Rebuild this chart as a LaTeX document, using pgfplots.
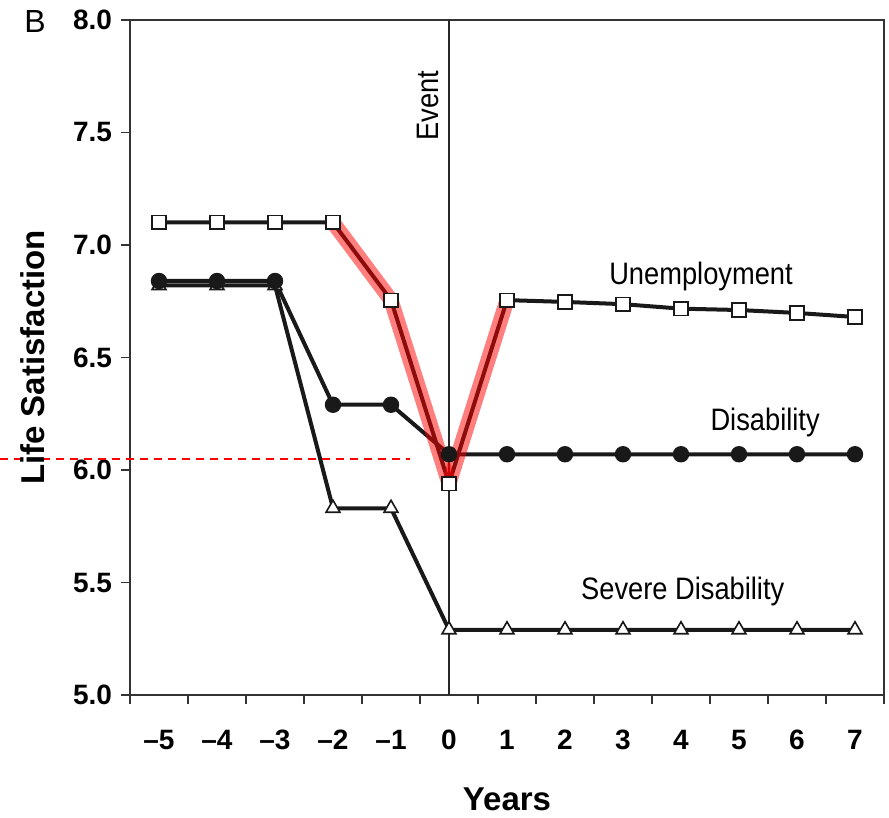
\documentclass[border=0pt]{standalone}
\usepackage{fontspec}
\setmainfont{Liberation Sans}
\newfontfamily\narrowfont[FakeStretch=0.88]{Liberation Sans}
\usepackage{pgfplots}
\pgfplotsset{compat=1.18}
\begin{document}
\begin{tikzpicture}
\begin{axis}[
  scale only axis, width=377pt, height=337.5pt,
  xmin=-5.5, xmax=7.5, ymin=5, ymax=8,
  clip=false,
  axis line style={line width=1pt, black!80},
  tick align=outside,
  xtick pos=bottom, ytick pos=left,
  xtick={-5.5,-4.5,...,7.5}, xticklabels={},
  extra x ticks={-5,-4,-3,-2,-1,0,1,2,3,4,5,6,7},
  extra x tick labels={\textendash5,\textendash4,\textendash3,\textendash2,\textendash1,0,1,2,3,4,5,6,7},
  extra x tick style={major tick length=0pt, tick label style={yshift=-14pt}},
  ytick={5,5.5,...,8},
  major tick length=4.5pt,
  tick style={line width=0.8pt, black!80},
  ticklabel style={font=\bfseries\fontsize{14}{16}\selectfont},
  /pgf/number format/fixed, /pgf/number format/fixed zerofill,
  /pgf/number format/precision=1, /pgf/number format/assume math mode=true,
  yticklabel style={xshift=-1pt},
  xlabel={Years}, ylabel={Life Satisfaction},
  every axis x label/.style={at={([yshift=-52pt]axis description cs:0.5,0)}, anchor=center, font=\bfseries\fontsize{16.5}{19}\selectfont},
  every axis y label/.style={at={([xshift=-48.5pt]axis description cs:0,0.5)}, anchor=center, rotate=90, font=\bfseries\fontsize{16.5}{19}\selectfont},
]
\coordinate (SW) at (rel axis cs:0,0);
\coordinate (NE) at (rel axis cs:1,1);
\coordinate (NW) at (rel axis cs:0,1);
% event line
\addplot[black!85, line width=1pt] coordinates {(0,5) (0,8)};
% severe disability
\addplot[black!90, line width=2pt, mark=triangle*, mark options={fill=white, line width=0.8pt, mark size=4pt}]
 coordinates {(-5,6.82) (-4,6.82) (-3,6.82) (-2,5.83) (-1,5.83) (0,5.29) (1,5.29) (2,5.29) (3,5.29) (4,5.29) (5,5.29) (6,5.29) (7,5.29)};
% disability
\addplot[black!90, line width=2pt, mark=*, mark options={fill=black!90, mark size=3.1pt}]
 coordinates {(-5,6.84) (-4,6.84) (-3,6.84) (-2,6.29) (-1,6.29) (0,6.07) (1,6.07) (2,6.07) (3,6.07) (4,6.07) (5,6.07) (6,6.07) (7,6.07)};
% unemployment
\addplot[black!90, line width=2pt, mark=square*, mark options={fill=white, line width=0.8pt, mark size=3.4pt}]
 coordinates {(-5,7.10) (-4,7.10) (-3,7.10) (-2,7.10) (-1,6.755) (0,5.94) (1,6.755) (2,6.747) (3,6.737) (4,6.717) (5,6.711) (6,6.698) (7,6.68)};
% red highlight
\addplot[red, opacity=0.5, line width=7.5pt, line cap=butt] coordinates {(-2,7.10) (-1,6.755)};
\addplot[red, opacity=0.5, line width=7.5pt, line cap=butt] coordinates {(-1,6.755) (0,5.94)};
\addplot[red, opacity=0.5, line width=7.5pt, line cap=butt] coordinates {(0,5.94) (1,6.755)};
% red dashed reference
\addplot[red, line width=1pt, dash pattern=on 4pt off 3pt] coordinates {(-7.741,6.05) (-0.672,6.05)};
\node[font=\narrowfont\fontsize{15.5}{18}\selectfont] at (axis cs:4.345,6.858) {Unemployment};
\node[font=\narrowfont\fontsize{15.5}{18}\selectfont] at (axis cs:5.45,6.209) {Disability};
\node[font=\narrowfont\fontsize{15.5}{18}\selectfont] at (axis cs:4.03,5.462) {Severe Disability};
\node[font=\narrowfont\fontsize{15.5}{18}\selectfont, rotate=90] at (axis cs:-0.36,7.62) {Event};
\end{axis}
\node[font=\fontsize{16}{19}\selectfont] at ([shift={(-47.5pt,-1pt)}]NW) {B};
\pgfresetboundingbox
\path[use as bounding box] ([shift={(-65pt,-61pt)}]SW) rectangle ([shift={(2.5pt,10pt)}]NE);
\end{tikzpicture}
\end{document}
